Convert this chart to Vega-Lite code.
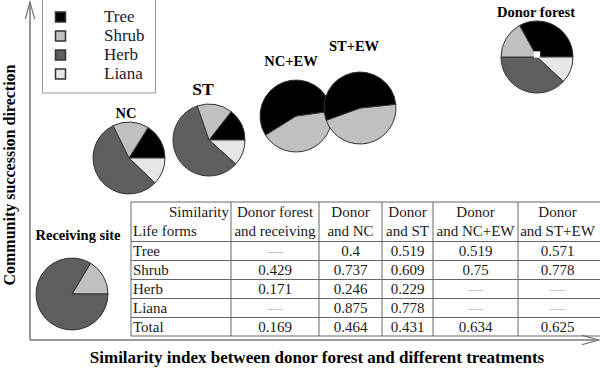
{
  "$schema": "https://vega.github.io/schema/vega-lite/v6.json",
  "width": 600,
  "height": 369,
  "padding": 0,
  "autosize": "none",
  "background": "white",
  "config": {"view": {"stroke": null}, "font": "Liberation Serif"},
  "datasets": {
    "axes": [
      {"x": 30, "y": 340, "x2": 599, "y2": 340},
      {"x": 30, "y": 340, "x2": 30, "y2": 2}
    ],
    "arrows": [
      {"x": 599, "y": 340, "dir": 0},
      {"x": 30, "y": 2, "dir": 270}
    ],
    "pies": [
      {"pie": "NC", "form": "Tree", "start": 32, "end": 90, "x": 129, "y": 158},
      {"pie": "NC", "form": "Liana", "start": 90, "end": 134, "x": 129, "y": 158},
      {"pie": "NC", "form": "Herb", "start": 134, "end": 334, "x": 129, "y": 158},
      {"pie": "NC", "form": "Shrub", "start": 334, "end": 392, "x": 129, "y": 158},
      {"pie": "ST", "form": "Tree", "start": 38, "end": 90, "x": 209, "y": 140},
      {"pie": "ST", "form": "Liana", "start": 90, "end": 132, "x": 209, "y": 140},
      {"pie": "ST", "form": "Herb", "start": 132, "end": 341, "x": 209, "y": 140},
      {"pie": "ST", "form": "Shrub", "start": 341, "end": 398, "x": 209, "y": 140},
      {"pie": "NC+EW", "form": "Shrub", "start": 82, "end": 238, "x": 296, "y": 116},
      {"pie": "NC+EW", "form": "Tree", "start": 238, "end": 442, "x": 296, "y": 116},
      {"pie": "ST+EW", "form": "Shrub", "start": 84, "end": 250, "x": 360, "y": 108},
      {"pie": "ST+EW", "form": "Tree", "start": 250, "end": 444, "x": 360, "y": 108},
      {"pie": "Donor forest", "form": "Tree", "start": 331, "end": 450, "x": 537, "y": 57},
      {"pie": "Donor forest", "form": "Liana", "start": 90, "end": 133, "x": 537, "y": 57},
      {"pie": "Donor forest", "form": "Herb", "start": 133, "end": 270, "x": 537, "y": 57},
      {"pie": "Donor forest", "form": "Shrub", "start": 270, "end": 331, "x": 537, "y": 57},
      {"pie": "Receiving site", "form": "Shrub", "start": 31, "end": 90, "x": 72, "y": 294},
      {"pie": "Receiving site", "form": "Herb", "start": 90, "end": 391, "x": 72, "y": 294}
    ],
    "pieLabels": [
      {"label": "NC", "x": 126, "y": 114},
      {"label": "ST", "x": 203, "y": 90},
      {"label": "NC+EW", "x": 291, "y": 62},
      {"label": "ST+EW", "x": 354, "y": 47},
      {"label": "Donor forest", "x": 536, "y": 13},
      {"label": "Receiving site", "x": 78, "y": 236}
    ],
    "donorCenter": [{"x": 537, "y": 54.5}],
    "hlines": [
      {"x": 131, "x2": 600, "y": 202},
      {"x": 131, "x2": 600, "y": 241.5},
      {"x": 131, "x2": 600, "y": 260.5},
      {"x": 131, "x2": 600, "y": 279.5},
      {"x": 131, "x2": 600, "y": 298.5},
      {"x": 131, "x2": 600, "y": 317.5},
      {"x": 131, "x2": 600, "y": 336}
    ],
    "vlines": [
      {"x": 131, "y": 202, "y2": 336},
      {"x": 231, "y": 202, "y2": 336},
      {"x": 319, "y": 202, "y2": 336},
      {"x": 382, "y": 202, "y2": 336},
      {"x": 433, "y": 202, "y2": 336},
      {"x": 518, "y": 202, "y2": 336}
    ],
    "colsPos": [
      {"col": "Label", "x": 133},
      {"col": "SimLabel", "x": 229},
      {"col": "Receiving", "x": 275},
      {"col": "NC", "x": 350.5},
      {"col": "ST", "x": 407.5},
      {"col": "NC+EW", "x": 475.5},
      {"col": "ST+EW", "x": 557.5}
    ],
    "rowsPos": [
      {"row": "h1", "y": 211.5},
      {"row": "h2", "y": 230.5},
      {"row": "Tree", "y": 250.5},
      {"row": "Shrub", "y": 269.5},
      {"row": "Herb", "y": 288.5},
      {"row": "Liana", "y": 307.5},
      {"row": "Total", "y": 326.5}
    ],
    "headers": [
      {"row": "h1", "col": "SimLabel", "text": "Similarity"},
      {"row": "h2", "col": "Label", "text": "Life forms"},
      {"row": "Tree", "col": "Label", "text": "Tree"},
      {"row": "Shrub", "col": "Label", "text": "Shrub"},
      {"row": "Herb", "col": "Label", "text": "Herb"},
      {"row": "Liana", "col": "Label", "text": "Liana"},
      {"row": "Total", "col": "Label", "text": "Total"},
      {"row": "h1", "col": "Receiving", "text": "Donor forest"},
      {"row": "h2", "col": "Receiving", "text": "and receiving"},
      {"row": "h1", "col": "NC", "text": "Donor"},
      {"row": "h2", "col": "NC", "text": "and NC"},
      {"row": "h1", "col": "ST", "text": "Donor"},
      {"row": "h2", "col": "ST", "text": "and ST"},
      {"row": "h1", "col": "NC+EW", "text": "Donor"},
      {"row": "h2", "col": "NC+EW", "text": "and NC+EW"},
      {"row": "h1", "col": "ST+EW", "text": "Donor"},
      {"row": "h2", "col": "ST+EW", "text": "and ST+EW"}
    ],
    "similarity": [
      {"row": "Tree", "col": "Receiving", "sim": null},
      {"row": "Tree", "col": "NC", "sim": 0.4},
      {"row": "Tree", "col": "ST", "sim": 0.519},
      {"row": "Tree", "col": "NC+EW", "sim": 0.519},
      {"row": "Tree", "col": "ST+EW", "sim": 0.571},
      {"row": "Shrub", "col": "Receiving", "sim": 0.429},
      {"row": "Shrub", "col": "NC", "sim": 0.737},
      {"row": "Shrub", "col": "ST", "sim": 0.609},
      {"row": "Shrub", "col": "NC+EW", "sim": 0.75},
      {"row": "Shrub", "col": "ST+EW", "sim": 0.778},
      {"row": "Herb", "col": "Receiving", "sim": 0.171},
      {"row": "Herb", "col": "NC", "sim": 0.246},
      {"row": "Herb", "col": "ST", "sim": 0.229},
      {"row": "Herb", "col": "NC+EW", "sim": null},
      {"row": "Herb", "col": "ST+EW", "sim": null},
      {"row": "Liana", "col": "Receiving", "sim": null},
      {"row": "Liana", "col": "NC", "sim": 0.875},
      {"row": "Liana", "col": "ST", "sim": 0.778},
      {"row": "Liana", "col": "NC+EW", "sim": null},
      {"row": "Liana", "col": "ST+EW", "sim": null},
      {"row": "Total", "col": "Receiving", "sim": 0.169},
      {"row": "Total", "col": "NC", "sim": 0.464},
      {"row": "Total", "col": "ST", "sim": 0.431},
      {"row": "Total", "col": "NC+EW", "sim": 0.634},
      {"row": "Total", "col": "ST+EW", "sim": 0.625}
    ],
    "xTitle": [{"text": "Similarity index between donor forest and different treatments", "x": 317, "y": 358}],
    "yTitle": [{"text": "Community succession direction", "x": 10, "y": 175}]
  },
  "encoding": {
    "x": {"field": "x", "type": "quantitative", "scale": {"domain": [0, 600], "nice": false, "zero": false}, "axis": null},
    "y": {"field": "y", "type": "quantitative", "scale": {"domain": [0, 369], "nice": false, "zero": false, "reverse": true}, "axis": null}
  },
  "layer": [
    {
      "data": {"name": "axes"},
      "mark": {"type": "rule", "color": "#777", "strokeWidth": 1.5},
      "encoding": {"x2": {"field": "x2"}, "y2": {"field": "y2"}}
    },
    {
      "data": {"name": "arrows"},
      "mark": {"type": "point", "shape": "M-2,-0.55L0,0L-2,0.55", "filled": false, "size": 289, "stroke": "#777", "strokeWidth": 1.2, "opacity": 1},
      "encoding": {"angle": {"field": "dir", "type": "quantitative", "scale": null}}
    },
    {
      "data": {"name": "hlines"},
      "mark": {"type": "rule", "color": "#666", "strokeWidth": 1},
      "encoding": {"x2": {"field": "x2"}}
    },
    {
      "data": {"name": "vlines"},
      "mark": {"type": "rule", "color": "#666", "strokeWidth": 1},
      "encoding": {"y2": {"field": "y2"}}
    },
    {
      "data": {"name": "pies"},
      "mark": {"type": "arc", "radius": 36, "stroke": "#333", "strokeWidth": 1},
      "encoding": {
        "theta": {"field": "start", "type": "quantitative", "stack": null, "scale": {"domain": [0, 360], "range": [0, 6.283185307179586]}},
        "theta2": {"field": "end"},
        "color": {
          "field": "form",
          "type": "nominal",
          "scale": {"domain": ["Tree", "Shrub", "Herb", "Liana"], "range": ["#000000", "#c0c0c0", "#5f5f5f", "#e6e6e6"]},
          "legend": {
            "orient": "none",
            "legendX": 42,
            "legendY": -1.5,
            "direction": "vertical",
            "title": null,
            "padding": 10,
            "labelOffset": 35,
            "rowPadding": 1,
            "symbolType": "square",
            "symbolSize": 100,
            "symbolStrokeColor": "#333",
            "symbolStrokeWidth": 1.5,
            "labelFont": "Liberation Serif",
            "labelFontSize": 17,
            "labelColor": "#1a1a2e",
            "strokeColor": "#999"
          }
        }
      }
    },
    {
      "data": {"name": "donorCenter"},
      "mark": {"type": "point", "shape": "square", "filled": true, "color": "white", "size": 40, "opacity": 1}
    },
    {
      "data": {"name": "pieLabels"},
      "transform": [{"filter": "datum.label != 'ST'"}],
      "mark": {"type": "text", "fontWeight": "bold", "fontSize": 14.5, "color": "black", "baseline": "middle"},
      "encoding": {"text": {"field": "label"}}
    },
    {
      "data": {"name": "pieLabels"},
      "transform": [{"filter": "datum.label == 'ST'"}],
      "mark": {"type": "text", "fontWeight": "bold", "fontSize": 17.5, "color": "black", "baseline": "middle"},
      "encoding": {"text": {"field": "label"}}
    },
    {
      "data": {"name": "headers"},
      "transform": [
        {"filter": "datum.col != 'Label' && datum.col != 'SimLabel'"},
        {"lookup": "col", "from": {"data": {"name": "colsPos"}, "key": "col", "fields": ["x"]}},
        {"lookup": "row", "from": {"data": {"name": "rowsPos"}, "key": "row", "fields": ["y"]}}
      ],
      "mark": {"type": "text", "fontSize": 15, "color": "#1a1a1a", "align": "center", "baseline": "middle"},
      "encoding": {"text": {"field": "text"}}
    },
    {
      "data": {"name": "headers"},
      "transform": [
        {"filter": "datum.col == 'Label'"},
        {"lookup": "col", "from": {"data": {"name": "colsPos"}, "key": "col", "fields": ["x"]}},
        {"lookup": "row", "from": {"data": {"name": "rowsPos"}, "key": "row", "fields": ["y"]}}
      ],
      "mark": {"type": "text", "fontSize": 15, "color": "#1a1a1a", "align": "left", "baseline": "middle"},
      "encoding": {"text": {"field": "text"}}
    },
    {
      "data": {"name": "headers"},
      "transform": [
        {"filter": "datum.col == 'SimLabel'"},
        {"lookup": "col", "from": {"data": {"name": "colsPos"}, "key": "col", "fields": ["x"]}},
        {"lookup": "row", "from": {"data": {"name": "rowsPos"}, "key": "row", "fields": ["y"]}}
      ],
      "mark": {"type": "text", "fontSize": 15, "color": "#1a1a1a", "align": "right", "baseline": "middle"},
      "encoding": {"text": {"field": "text"}}
    },
    {
      "data": {"name": "similarity"},
      "transform": [
        {"filter": "isValid(datum.sim)"},
        {"lookup": "col", "from": {"data": {"name": "colsPos"}, "key": "col", "fields": ["x"]}},
        {"lookup": "row", "from": {"data": {"name": "rowsPos"}, "key": "row", "fields": ["y"]}}
      ],
      "mark": {"type": "text", "fontSize": 15, "color": "#1a1a1a", "align": "center", "baseline": "middle"},
      "encoding": {"text": {"field": "sim", "type": "quantitative", "format": ".3~f"}}
    },
    {
      "data": {"name": "similarity"},
      "transform": [
        {"filter": "!isValid(datum.sim)"},
        {"lookup": "col", "from": {"data": {"name": "colsPos"}, "key": "col", "fields": ["x"]}},
        {"lookup": "row", "from": {"data": {"name": "rowsPos"}, "key": "row", "fields": ["y"]}}
      ],
      "mark": {"type": "text", "text": "—", "fontSize": 15, "color": "#999", "align": "center", "baseline": "middle"}
    },
    {
      "data": {"name": "xTitle"},
      "mark": {"type": "text", "fontWeight": "bold", "fontSize": 17, "color": "black", "align": "center", "baseline": "middle"},
      "encoding": {"text": {"field": "text"}}
    },
    {
      "data": {"name": "yTitle"},
      "mark": {"type": "text", "fontWeight": "bold", "fontSize": 16, "color": "black", "align": "center", "baseline": "middle", "angle": 270},
      "encoding": {"text": {"field": "text"}}
    }
  ]
}
